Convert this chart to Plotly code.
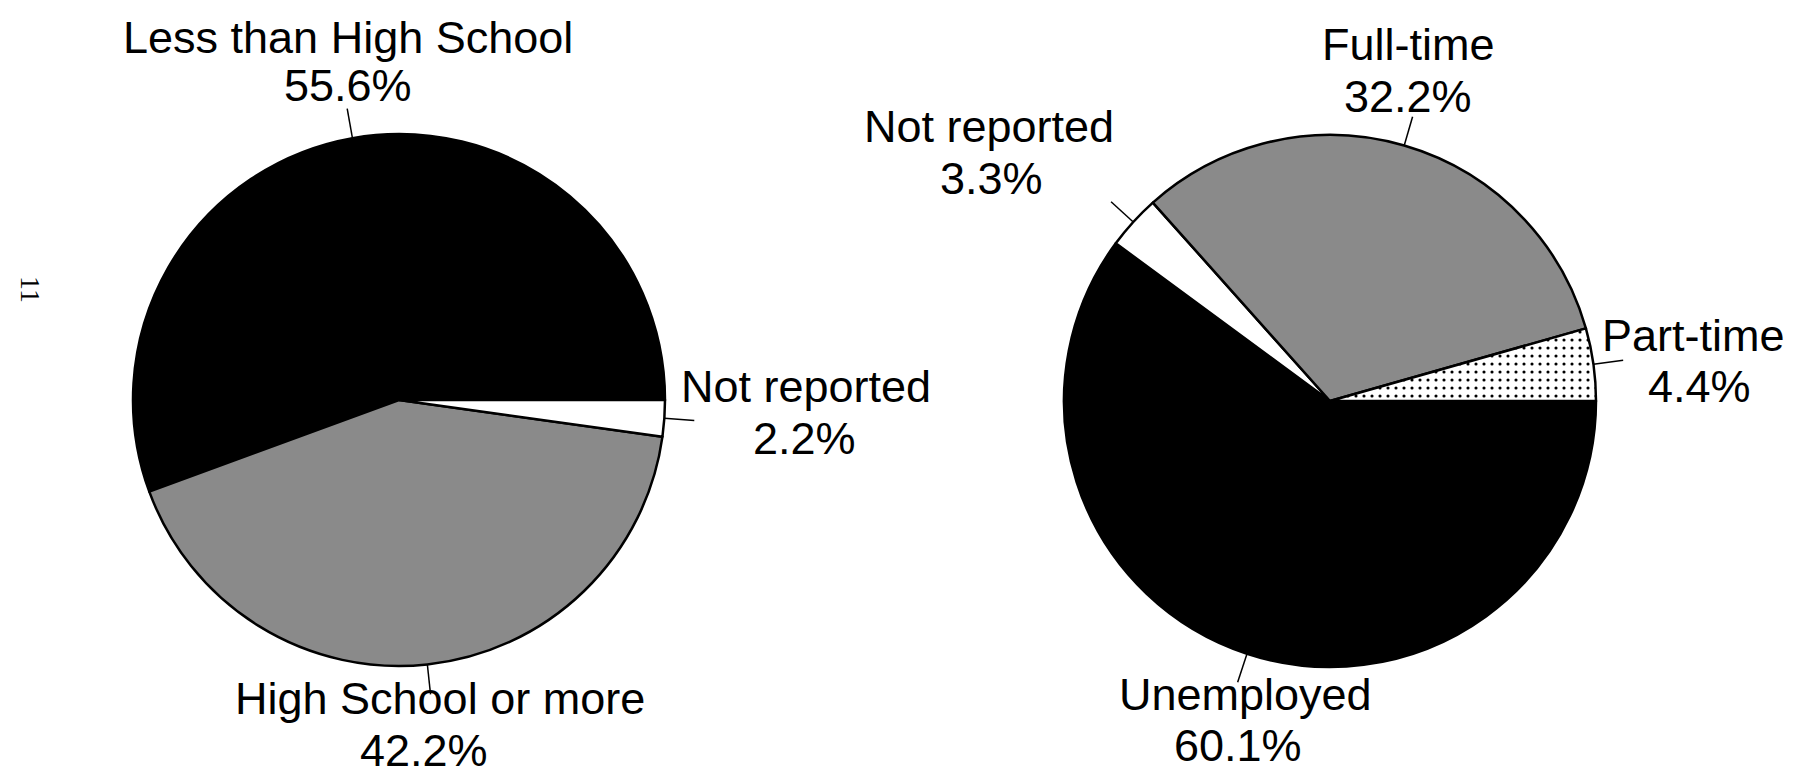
import numpy as np
import plotly.graph_objects as go

# Education (left pie), counterclockwise from 3 o'clock
edu_labels = ["Less than High School", "High School or more", "Not reported"]
edu_values = [55.6, 42.2, 2.2]

# Employment (right pie), clockwise from 3 o'clock
emp_labels = ["Unemployed", "Not reported", "Full-time", "Part-time"]
emp_values = [60.1, 3.3, 32.2, 4.4]

W, H = 1810, 773
R = 266
left_c = (391, 392)
right_c = (1322, 393)

GRAY = "#8a8a8a"
FONT = "Arial, Liberation Sans, sans-serif"


def domain(c):
    cx, cy = c
    return dict(x=[(cx - R) / W, (cx + R) / W], y=[1 - (cy + R) / H, 1 - (cy - R) / H])


# plotly ends the first counterclockwise slice at `rotation`, so turn it back
# by the first slice's angle to make it start at 3 o'clock
edu_rotation = 90 - edu_values[0] / sum(edu_values) * 360

fig = go.Figure()
fig.add_trace(
    go.Pie(
        labels=edu_labels,
        values=edu_values,
        sort=False,
        direction="counterclockwise",
        rotation=edu_rotation,
        textinfo="none",
        hoverinfo="label+percent",
        domain=domain(left_c),
        marker=dict(colors=["black", GRAY, "white"], line=dict(color="black", width=2.5)),
        showlegend=False,
    )
)
fig.add_trace(
    go.Pie(
        labels=emp_labels,
        values=emp_values,
        sort=False,
        direction="clockwise",
        rotation=90,
        textinfo="none",
        hoverinfo="label+percent",
        domain=domain(right_c),
        marker=dict(
            colors=["black", "white", GRAY, "white"],
            pattern=dict(
                shape=["", "", "", "."],
                fgcolor="black",
                bgcolor="white",
                size=8,
                solidity=0.12,
            ),
            line=dict(color="black", width=2.5),
        ),
        showlegend=False,
    )
)


# leader lines, radial from the middle of each slice
def leaders(values, c, sign):
    total = sum(values)
    cum = 0
    out = []
    for v in values:
        ang = np.radians(sign * (cum + v / 2) / total * 360)
        cum += v
        x0 = c[0] + R * np.cos(ang)
        y0 = c[1] - R * np.sin(ang)
        x1 = c[0] + (R + 30) * np.cos(ang)
        y1 = c[1] - (R + 30) * np.sin(ang)
        out.append((x0, y0, x1, y1))
    return out


for x0, y0, x1, y1 in leaders(edu_values, left_c, 1) + leaders(emp_values, right_c, -1):
    fig.add_shape(
        type="line",
        xref="paper",
        yref="paper",
        x0=x0 / W,
        y0=1 - y0 / H,
        x1=x1 / W,
        y1=1 - y1 / H,
        line=dict(color="black", width=1.5),
    )

# label text positions (pixel centres of the name line and the percent line)
label_pos = {
    ("edu", 0): (340, 29, 340, 77),
    ("edu", 1): (432, 690, 416, 742),
    ("edu", 2): (798, 378, 796, 430),
    ("emp", 0): (1237, 686, 1230, 737),
    ("emp", 1): (981, 118, 983, 170),
    ("emp", 2): (1400, 37, 1400, 89),
    ("emp", 3): (1685, 327, 1691, 378),
}


def add_text(text, px, py, size=45, family=FONT, angle=0):
    fig.add_annotation(
        x=px / W,
        y=1 - py / H,
        xref="paper",
        yref="paper",
        text=text,
        showarrow=False,
        xanchor="center",
        yanchor="middle",
        textangle=angle,
        font=dict(family=family, size=size, color="black"),
    )


for key, labels, values in [("edu", edu_labels, edu_values), ("emp", emp_labels, emp_values)]:
    for i, (lab, v) in enumerate(zip(labels, values)):
        lx, ly, px, py = label_pos[(key, i)]
        add_text(lab, lx, ly)
        add_text(f"{v:.1f}%", px, py)

# page number from the scanned page
add_text("11", 22, 281, size=28, family="Liberation Serif, Times New Roman, serif", angle=90)

fig.update_layout(
    width=W,
    height=H,
    margin=dict(l=0, r=0, t=0, b=0),
    paper_bgcolor="white",
    plot_bgcolor="white",
)

fig.write_html("out.html")
